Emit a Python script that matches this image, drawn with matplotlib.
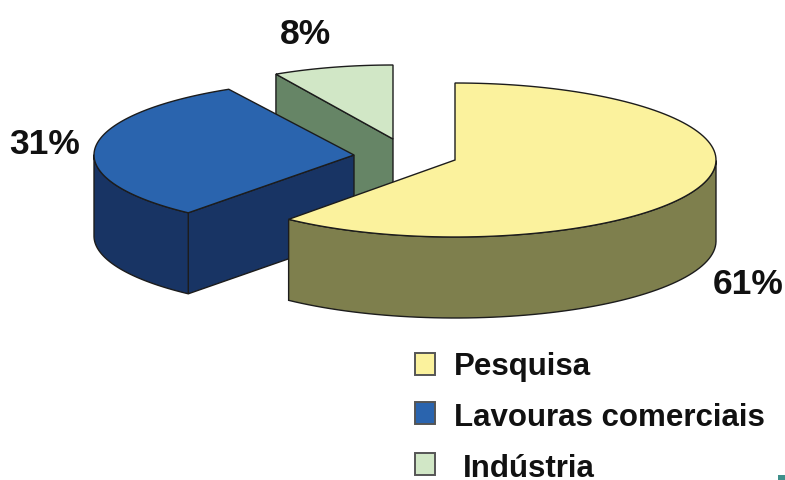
from matplotlib import pyplot as plt
from matplotlib.patches import Polygon, Rectangle
import numpy as np

labels = ['Pesquisa', 'Lavouras comerciais', 'Indústria']
shares = [61, 31, 8]
share_text = ['61%', '31%', '8%']

# top face colour, wall colour
top_colors = ['#FBF29D', '#2A64AE', '#D1E7C6']
wall_colors = ['#7E7F4D', '#183464', '#668566']

# slice apex in pixels, radii
apex = [(455, 160), (354, 155), (393, 139)]
radii = [(261, 77), (260, 75), (243, 74)]
depth = 81
edge = '#1c1c1c'


def rim(center, radius, a0, a1):
    t = np.radians(np.linspace(a0, a1, 120))
    x = center[0] + radius[0] * np.cos(t)
    y = center[1] - radius[1] * np.sin(t)
    return np.column_stack([x, y])


def wall(points, color):
    low = points[::-1] + [0, depth]
    ax.add_patch(Polygon(np.vstack([points, low]), closed=True, fc=color, ec=edge, lw=1.0))


fig = plt.figure(figsize=(7.85, 4.8), dpi=100)
ax = fig.add_axes([0, 0, 1, 1])
ax.set_xlim(0, 785)
ax.set_ylim(480, 0)
ax.axis('off')

# angles run clockwise from 12 o'clock
ends = np.cumsum(shares) / sum(shares) * 360
starts = np.concatenate([[0], ends[:-1]])
angles = [(90 - s, 90 - e) for s, e in zip(starts, ends)]

# draw back to front: industry, crops, research
for i in [2, 1, 0]:
    a0, a1 = angles[i]
    c = np.array(apex[i], dtype=float)
    arc = rim(c, radii[i], a0, a1)

    if i == 2:
        wall(np.vstack([arc[0], c]), wall_colors[i])
    if i == 1:
        wall(np.vstack([arc[0], c]), wall_colors[i])
        wall(arc[:np.argmin(arc[:, 0]) + 1], wall_colors[i])
    if i == 0:
        wall(arc[arc[:, 1] >= c[1] - 1], wall_colors[i])

    ax.add_patch(Polygon(np.vstack([c, arc]), closed=True, fc=top_colors[i], ec=edge, lw=1.0))

font = dict(family='Liberation Sans', fontweight='bold', color='#111111')
share_pos = [(748, 284), (45, 145), (305, 34)]
for txt, pos in zip(share_text, share_pos):
    ax.text(pos[0], pos[1], txt, fontsize=25.5, ha='center', va='center', **font)

box_y = [364, 413, 464]
legend_y = [367, 418, 469]
legend_x = [454, 454, 463]
for i in range(3):
    ax.add_patch(Rectangle((415, box_y[i] - 11), 20, 22, fc=top_colors[i], ec='#555555', lw=1.4))
    ax.text(legend_x[i], legend_y[i], labels[i], fontsize=22.5, ha='left', va='center', **font)

# small stray mark in the corner of the scan
ax.add_patch(Rectangle((778, 475), 7, 5, fc='#3f8f8a', ec='none'))

fig.savefig('out.png', dpi=100)
